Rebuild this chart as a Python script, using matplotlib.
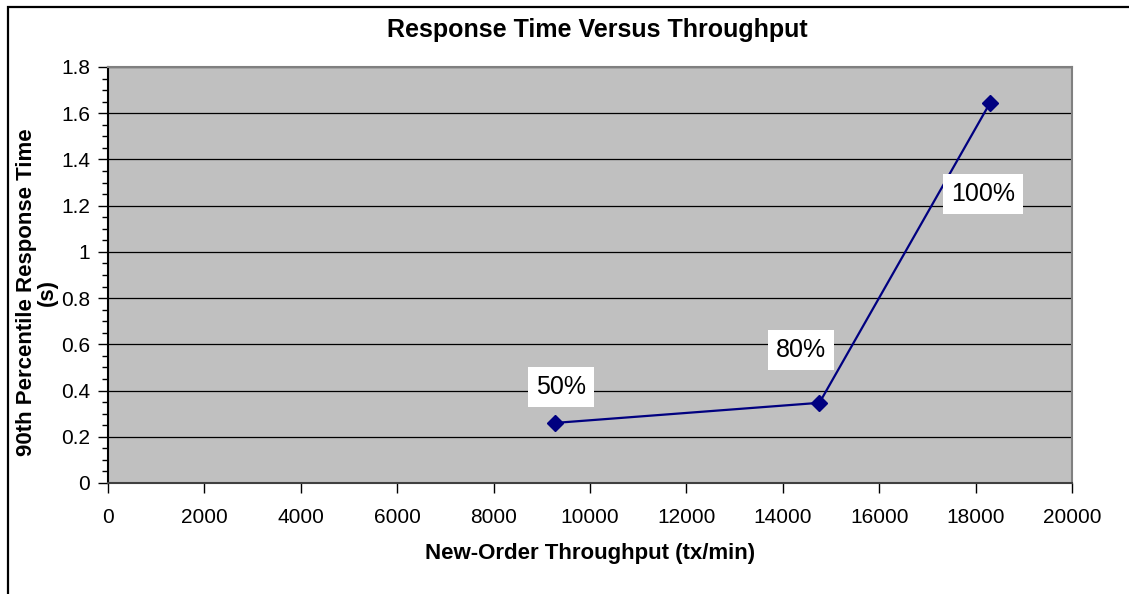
import matplotlib
matplotlib.use('Agg')
import matplotlib.pyplot as plt
from matplotlib.patches import Rectangle
from matplotlib.ticker import MultipleLocator

plt.rcParams['font.family'] = ['Liberation Sans', 'DejaVu Sans']

# data
throughput = [9280, 14760, 18300]
resp_time = [0.26, 0.347, 1.645]
load_labels = ['50%', '80%', '100%']
label_offsets = [(4, 26), (-13, 38), (-5, -66)]

fig = plt.figure(figsize=(11.29, 5.94), dpi=100)
ax = fig.add_axes([108/1129, 1 - 483/594, (1072-108)/1129, (483-67)/594])

ax.set_facecolor('#C0C0C0')
ax.plot(throughput, resp_time, color='#000080', lw=1.6, marker='D', ms=8, zorder=3)

for x, y, lab, off in zip(throughput, resp_time, load_labels, label_offsets):
    ax.annotate(lab, (x, y), xytext=off, textcoords='offset points',
                ha='center', va='center', fontsize=18,
                bbox=dict(boxstyle='square,pad=0.32', fc='white', ec='none'), zorder=4)

ax.set_xlim(0, 20000)
ax.set_ylim(0, 1.8)
ax.xaxis.set_major_locator(MultipleLocator(2000))
ax.yaxis.set_minor_locator(MultipleLocator(0.05))
ax.set_yticks([0, 0.2, 0.4, 0.6, 0.8, 1, 1.2, 1.4, 1.6, 1.8])
ax.set_yticklabels(['0', '0.2', '0.4', '0.6', '0.8', '1', '1.2', '1.4', '1.6', '1.8'])
ax.grid(axis='y', which='major', color='black', lw=0.9)
ax.set_axisbelow(True)

ax.tick_params(axis='both', which='major', direction='out', length=7, width=1,
               color='black', labelsize=15, pad=6)
ax.tick_params(axis='y', which='minor', direction='out', length=4, width=1, color='black')
ax.tick_params(axis='x', pad=11)

ax.spines['left'].set_color('black')
ax.spines['bottom'].set_color('#404040')
ax.spines['top'].set_color('#808080')
ax.spines['right'].set_color('#808080')
for s in ax.spines.values():
    s.set_linewidth(1.5)

fig.text(597/1129, 1 - 30/594, 'Response Time Versus Throughput', ha='center', va='center',
         fontsize=18, fontweight='bold')
fig.text(590/1129, 1 - 553/594, 'New-Order Throughput (tx/min)', ha='center', va='center',
         fontsize=16, fontweight='bold')
fig.text(37/1129, 1 - 292/594, '90th Percentile Response Time\n(s)', ha='center', va='center',
         rotation=90, fontsize=16, fontweight='bold', linespacing=0.95)

fig.patches.append(Rectangle((8/1129, -0.2), 1.5, 1.2 - 7/594, transform=fig.transFigure,
                             fill=False, ec='black', lw=1.6))

fig.savefig('out.png', dpi=100)
